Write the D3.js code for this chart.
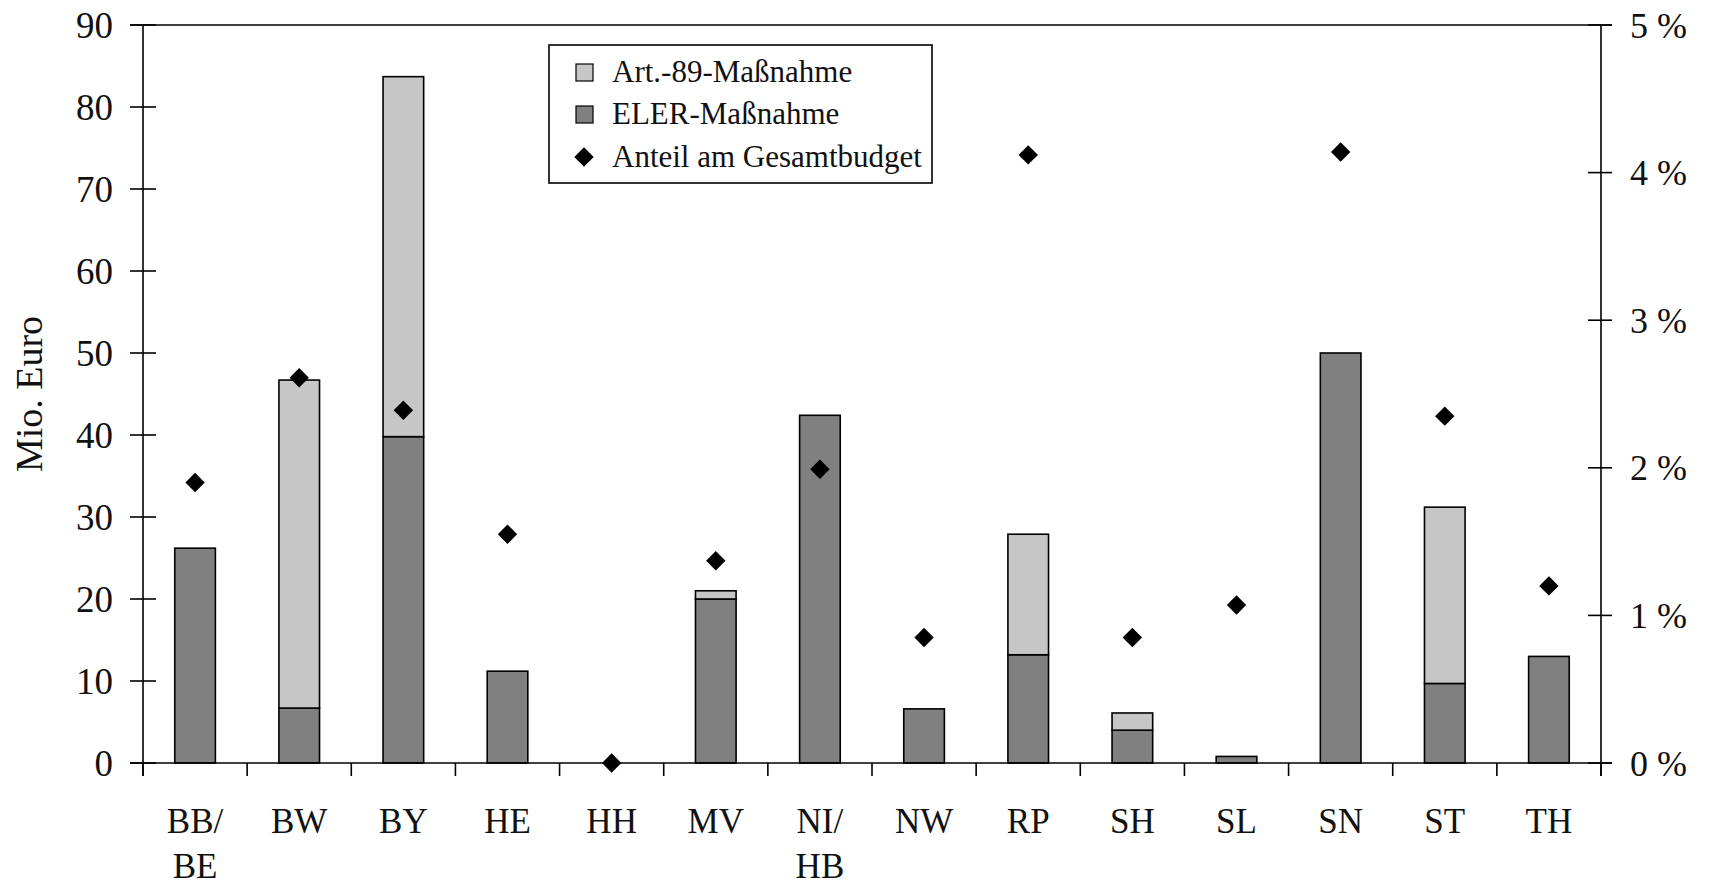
<!DOCTYPE html>
<html><head><meta charset="utf-8">
<script src="https://cdn.jsdelivr.net/npm/d3@7"></script>
<style>
html,body{margin:0;padding:0;background:#fff;}
svg text{font-family:"Liberation Serif","Times New Roman",serif;fill:#111;}
</style></head>
<body><svg id="chart" width="1710" height="886"></svg>
<script>
const categories = ["BB/\nBE","BW","BY","HE","HH","MV","NI/\nHB","NW","RP","SH","SL","SN","ST","TH"];
const elerValues = [26.2,6.7,39.8,11.2,0,20.0,42.4,6.6,13.2,4.0,0.8,50.0,9.7,13.0];
const art89Values = [0,40.0,43.9,0,0,1.0,0,0,14.7,2.1,0,0,21.5,0];
const shareValues = [1.90,2.61,2.39,1.55,0,1.37,1.99,0.85,4.12,0.85,1.07,4.14,2.35,1.20];
const leftTicks = [0,10,20,30,40,50,60,70,80,90];
const rightTicks = [0,1,2,3,4,5];
const legendLabels = ["Art.-89-Maßnahme","ELER-Maßnahme","Anteil am Gesamtbudget"];
const yTitle = "Mio. Euro";

const svg = d3.select("#chart");
const L = 143, R = 1601, T = 25, B = 763;
const x = d3.scaleBand().domain(categories).range([L,R]).paddingInner(0.61).paddingOuter(0.305);
const xEdge = d3.scaleLinear().domain([0,categories.length]).range([L,R]);
const y = d3.scaleLinear().domain([0,90]).range([B,T]);
const y2 = d3.scaleLinear().domain([0,5]).range([B,T]);

const lightFill = "#c6c6c6", darkFill = "#808080";

// bars
const g = svg.append("g");
categories.forEach((c,i)=>{
  if (elerValues[i] > 0) {
    g.append("rect").attr("x",x(c)).attr("width",x.bandwidth())
      .attr("y",y(elerValues[i])).attr("height",y(0)-y(elerValues[i]))
      .attr("fill",darkFill).attr("stroke","#000").attr("stroke-width",1.6);
  }
  if (art89Values[i] > 0) {
    const top = elerValues[i]+art89Values[i];
    g.append("rect").attr("x",x(c)).attr("width",x.bandwidth())
      .attr("y",y(top)).attr("height",y(elerValues[i])-y(top))
      .attr("fill",lightFill).attr("stroke","#000").attr("stroke-width",1.6);
  }
});

// axes lines
const axisColor = "#000";
svg.append("line").attr("x1",130).attr("x2",1612).attr("y1",T).attr("y2",T).attr("stroke",axisColor).attr("stroke-width",1.6);
svg.append("line").attr("x1",130).attr("x2",1612).attr("y1",B).attr("y2",B).attr("stroke",axisColor).attr("stroke-width",1.6);
svg.append("line").attr("x1",L).attr("x2",L).attr("y1",T).attr("y2",B+13).attr("stroke",axisColor).attr("stroke-width",1.6);
svg.append("line").attr("x1",R).attr("x2",R).attr("y1",T).attr("y2",B+13).attr("stroke",axisColor).attr("stroke-width",1.6);

// left ticks
leftTicks.forEach(t=>{
  svg.append("line").attr("x1",130).attr("x2",156).attr("y1",y(t)).attr("y2",y(t)).attr("stroke",axisColor).attr("stroke-width",1.6);
  svg.append("text").attr("x",113).attr("y",y(t)).attr("dy","0.35em").attr("text-anchor","end")
    .attr("font-size",37).text(t);
});
// right ticks
rightTicks.forEach(t=>{
  svg.append("line").attr("x1",1588).attr("x2",1612).attr("y1",y2(t)).attr("y2",y2(t)).attr("stroke",axisColor).attr("stroke-width",1.6);
  svg.append("text").attr("x",1630).attr("y",y2(t)).attr("dy","0.35em").attr("text-anchor","start")
    .attr("font-size",36).text(t + " %");
});
// x ticks
d3.range(categories.length+1).forEach(i=>{
  svg.append("line").attr("x1",xEdge(i)).attr("x2",xEdge(i)).attr("y1",B).attr("y2",B+13).attr("stroke",axisColor).attr("stroke-width",1.6);
});
// category labels
categories.forEach(c=>{
  const lines = c.split("\n");
  const t = svg.append("text").attr("text-anchor","middle").attr("font-size",35);
  lines.forEach((ln,j)=>{
    t.append("tspan").attr("x",x(c)+x.bandwidth()/2).attr("y",833+j*45).text(ln);
  });
});

// diamonds
const diamond = d3.symbol().type(d3.symbolDiamond2).size(240);
categories.forEach((c,i)=>{
  svg.append("path").attr("d",diamond())
    .attr("transform",`translate(${x(c)+x.bandwidth()/2},${y2(shareValues[i])})`)
    .attr("fill","#000");
});

// y title
svg.append("text").attr("transform","translate(42,394) rotate(-90)").attr("text-anchor","middle")
  .attr("font-size",38).text(yTitle);

// legend
const lg = svg.append("g");
lg.append("rect").attr("x",549).attr("y",45).attr("width",383).attr("height",138)
  .attr("fill","#fff").attr("stroke","#000").attr("stroke-width",1.6);
const rowsY = [72,114,157];
lg.append("rect").attr("x",576).attr("y",rowsY[0]-8).attr("width",17).attr("height",17).attr("fill",lightFill).attr("stroke","#000").attr("stroke-width",1.2);
lg.append("rect").attr("x",576).attr("y",rowsY[1]-8).attr("width",17).attr("height",17).attr("fill",darkFill).attr("stroke","#000").attr("stroke-width",1.2);
lg.append("path").attr("d",diamond()).attr("transform",`translate(584,${rowsY[2]})`).attr("fill","#000");
legendLabels.forEach((l,i)=>{
  lg.append("text").attr("x",612).attr("y",rowsY[i]).attr("dy","0.33em").attr("font-size",31).text(l);
});
</script></body></html>
